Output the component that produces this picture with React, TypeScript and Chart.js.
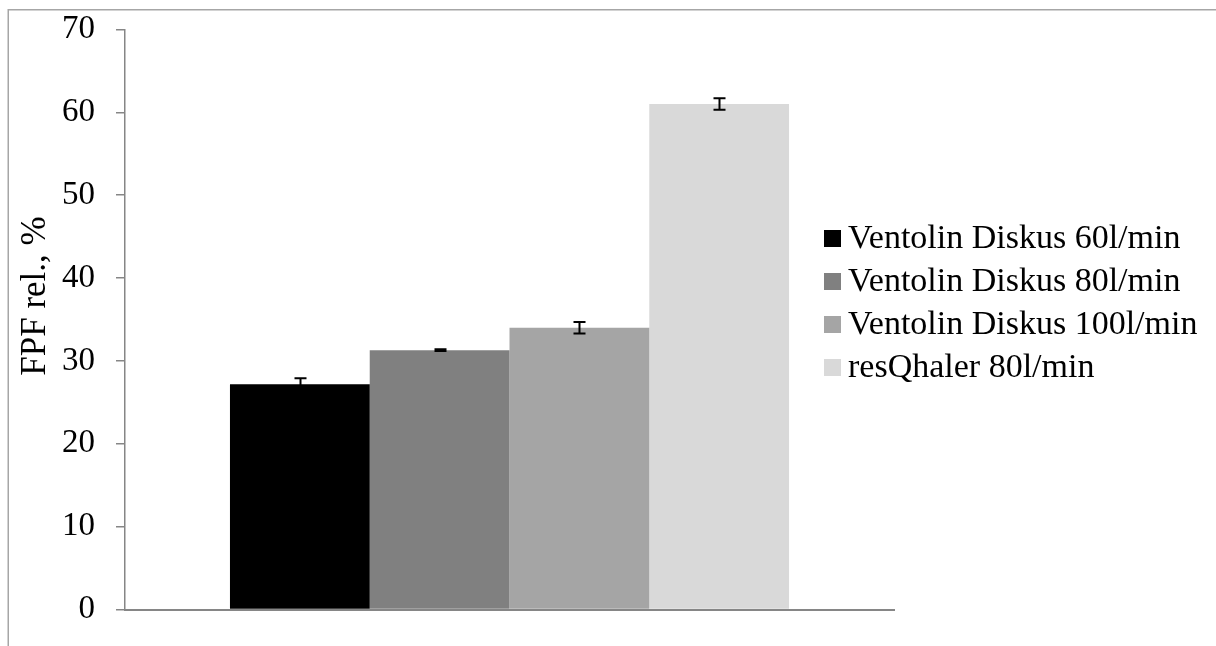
import React, { useEffect, useRef } from 'react';
import { Chart, registerables } from 'chart.js';

Chart.register(...registerables);

const categories = [''];
const seriesLabels = [
  'Ventolin Diskus 60l/min',
  'Ventolin Diskus 80l/min',
  'Ventolin Diskus 100l/min',
  'resQhaler 80l/min',
];
const seriesValues = [27.2, 31.3, 34.0, 61.0];
const seriesErrors = [0.7, 0.1, 0.7, 0.7];
const seriesColors = ['#000000', '#808080', '#a5a5a5', '#d9d9d9'];
const yMin = 0;
const yMax = 70;
const yStep = 10;
const yTitle = 'FPF rel., %';

const FONT = "'Liberation Serif', serif";

const framePlugin = {
  id: 'frame',
  beforeDraw(chart: any) {
    const { ctx, width, height } = chart;
    ctx.save();
    ctx.fillStyle = '#ffffff';
    ctx.fillRect(0, 0, width, height);
    ctx.strokeStyle = '#a6a6a6';
    ctx.lineWidth = 1.5;
    ctx.beginPath();
    ctx.moveTo(8.25, height);
    ctx.lineTo(8.25, 9.75);
    ctx.lineTo(width, 9.75);
    ctx.stroke();
    ctx.restore();
  },
};

const errorBarPlugin = {
  id: 'errorBars',
  afterDatasetsDraw(chart: any) {
    const { ctx } = chart;
    const yScale = chart.scales.y;
    chart.data.datasets.forEach((ds: any, i: number) => {
      const meta = chart.getDatasetMeta(i);
      meta.data.forEach((bar: any, j: number) => {
        const v = ds.data[j];
        const e = seriesErrors[i];
        const top = yScale.getPixelForValue(v + e);
        const bot = yScale.getPixelForValue(v - e);
        const x = Math.round(bar.x) + 0.5;
        ctx.save();
        ctx.strokeStyle = '#000000';
        ctx.lineWidth = 2;
        ctx.beginPath();
        ctx.moveTo(x, top);
        ctx.lineTo(x, bot);
        ctx.moveTo(x - 6, top);
        ctx.lineTo(x + 6, top);
        ctx.moveTo(x - 6, bot);
        ctx.lineTo(x + 6, bot);
        ctx.stroke();
        ctx.restore();
      });
    });
  },
};

const yTitlePlugin = {
  id: 'yTitle',
  afterDraw(chart: any, _args: any, opts: any) {
    const { ctx } = chart;
    ctx.save();
    ctx.translate(opts.x, opts.y);
    ctx.rotate(-Math.PI / 2);
    ctx.font = `${opts.fontSize}px ${FONT}`;
    ctx.fillStyle = '#000000';
    ctx.textAlign = 'center';
    ctx.textBaseline = 'middle';
    ctx.fillText(opts.text, 0, 0);
    ctx.restore();
  },
};

const legendPlugin = {
  id: 'sideLegend',
  afterDraw(chart: any, _args: any, opts: any) {
    const { ctx } = chart;
    const n = chart.data.datasets.length;
    const startY = opts.centerY - ((n - 1) * opts.rowGap) / 2;
    ctx.save();
    ctx.font = `${opts.fontSize}px ${FONT}`;
    ctx.textBaseline = 'middle';
    ctx.textAlign = 'left';
    chart.data.datasets.forEach((ds: any, i: number) => {
      const cy = startY + i * opts.rowGap;
      ctx.fillStyle = ds.backgroundColor;
      ctx.fillRect(opts.x, cy - opts.box / 2, opts.box, opts.box);
      ctx.fillStyle = '#000000';
      ctx.fillText(ds.label, opts.x + opts.box + 7, cy + 1);
    });
    ctx.restore();
  },
};

export default function App() {
  const ref = useRef<HTMLCanvasElement | null>(null);

  useEffect(() => {
    if (!ref.current) return;
    const chart = new Chart(ref.current, {
      type: 'bar',
      data: {
        labels: categories,
        datasets: seriesLabels.map((label, i) => ({
          label,
          data: [seriesValues[i]],
          backgroundColor: seriesColors[i],
          borderWidth: 0,
          categoryPercentage: 0.727,
          barPercentage: 1,
        })),
      },
      options: {
        animation: false,
        responsive: false,
        layout: { padding: { left: 10, top: 29.5, right: 322, bottom: 36.5 } },
        plugins: {
          legend: { display: false },
          tooltip: { enabled: false },
          sideLegend: { x: 824, centerY: 303, rowGap: 43, box: 17, fontSize: 34 },
          yTitle: { text: yTitle, x: 36, y: 296, fontSize: 35 },
        } as any,
        scales: {
          x: {
            ticks: { display: false },
            grid: { display: false, drawTicks: false },
            border: { display: true, color: '#868686', width: 2 },
            afterFit: (s: any) => {
              s.height = 0;
              s.paddingLeft = 0;
              s.paddingRight = 0;
            },
          },
          y: {
            min: yMin,
            max: yMax,
            ticks: {
              stepSize: yStep,
              color: '#000000',
              padding: 21,
              font: { family: FONT, size: 33 },
            },
            grid: {
              drawOnChartArea: false,
              drawTicks: true,
              tickLength: 9,
              color: '#868686',
              lineWidth: 1.5,
            },
            border: { display: true, color: '#868686', width: 1.5 },
            title: { display: false },
            afterFit: (s: any) => {
              s.width = 115;
              s.paddingTop = 0;
              s.paddingBottom = 0;
            },
          },
        },
      },
      plugins: [framePlugin, errorBarPlugin, yTitlePlugin, legendPlugin],
    });
    return () => chart.destroy();
  }, []);

  return (
    <div style={{ position: 'fixed', left: 0, top: 0, width: 1216, height: 646 }}>
      <canvas ref={ref} width={1216} height={646} style={{ display: 'block' }} />
    </div>
  );
}
